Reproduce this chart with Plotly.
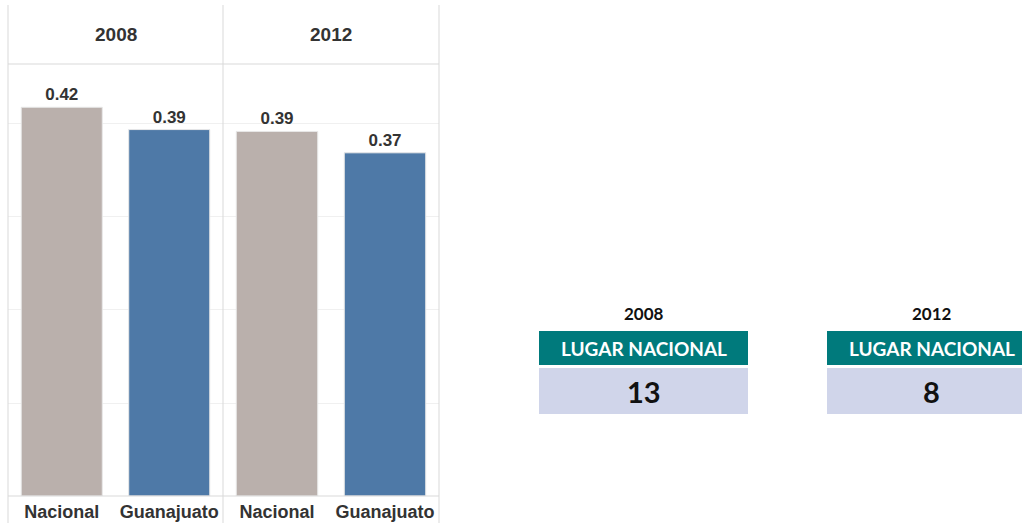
import plotly.graph_objects as go

years = ["2008", "2012"]
categories = ["Nacional", "Guanajuato"]
values_2008 = [0.418, 0.394]
values_2012 = [0.392, 0.369]
rank_labels = ["LUGAR NACIONAL", "LUGAR NACIONAL"]
ranks = ["13", "8"]
bar_colors = ["#BAB0AC", "#4E79A7"]

W, H = 1022, 523
def px(x):
    return x / W
def py(y):
    return 1 - y / H

fig = go.Figure()
for i, vals in enumerate([values_2008, values_2012]):
    fig.add_trace(go.Bar(
        x=categories, y=vals,
        marker=dict(color=bar_colors, line=dict(color="#e8e8e8", width=1)),
        text=vals, texttemplate="%{y:.2f}", textposition="outside",
        textfont=dict(family="Liberation Sans, Arial", size=17, color="#333333", weight="bold"),
        cliponaxis=False,
        xaxis="x" if i == 0 else "x2", yaxis="y" if i == 0 else "y2",
        showlegend=False, hoverinfo="x+y",
    ))

axis_common = dict(
    tickfont=dict(family="Liberation Sans, Arial", size=18, color="#333333", weight="bold"),
    showgrid=False, showline=False, zeroline=False, ticks="", fixedrange=True,
    ticklabelstandoff=3,
)
yaxis_common = dict(
    range=[0, 0.4645], domain=[py(496), py(64)], showticklabels=False,
    showgrid=True, gridcolor="#f0f0f0", gridwidth=1, zeroline=False,
    tickvals=[0.1, 0.2, 0.3, 0.4], showline=False, ticks="", fixedrange=True,
)

fig.update_layout(
    width=W, height=H, margin=dict(l=0, r=0, t=0, b=0),
    paper_bgcolor="white", plot_bgcolor="white",
    bargap=0.246,
    xaxis=dict(domain=[px(8), px(223)], anchor="y", **axis_common),
    xaxis2=dict(domain=[px(223), px(439)], anchor="y2", **axis_common),
    yaxis=dict(anchor="x", **yaxis_common),
    yaxis2=dict(anchor="x2", **yaxis_common),
)

line_c = "#d9d9d9"
shapes = []
for x in [8, 223, 439]:
    shapes.append(dict(type="line", xref="paper", yref="paper", x0=px(x), x1=px(x),
                       y0=py(5), y1=py(523), line=dict(color=line_c, width=1)))
shapes.append(dict(type="line", xref="paper", yref="paper", x0=px(8), x1=px(439),
                   y0=py(64), y1=py(64), line=dict(color=line_c, width=1)))
shapes.append(dict(type="line", xref="paper", yref="paper", x0=px(8), x1=px(439),
                   y0=py(496), y1=py(496), line=dict(color=line_c, width=1)))

annotations = []
for cx, yr in zip([115.5, 331], years):
    annotations.append(dict(x=px(cx), y=py(35), xref="paper", yref="paper", text="<b>%s</b>" % yr,
                            showarrow=False, font=dict(family="Liberation Sans, Arial", size=19, color="#333333"),
                            xanchor="center", yanchor="middle"))

# Right side rank boxes
for x0, yr, lab, rk in zip([539, 827], years, rank_labels, ranks):
    x1 = x0 + 209
    cx = (x0 + x1) / 2
    shapes.append(dict(type="rect", xref="paper", yref="paper", x0=px(x0), x1=px(x1),
                       y0=py(365), y1=py(331), fillcolor="#007A7C", line=dict(width=0), layer="below"))
    shapes.append(dict(type="rect", xref="paper", yref="paper", x0=px(x0), x1=px(x1),
                       y0=py(414), y1=py(368), fillcolor="#D0D5EA", line=dict(width=0), layer="below"))
    annotations.append(dict(x=px(cx), y=py(313), xref="paper", yref="paper", text="<b>%s</b>" % yr,
                            showarrow=False, font=dict(family="Lato, Open Sans", size=17, color="#111111"),
                            xanchor="center", yanchor="middle"))
    annotations.append(dict(x=px(cx), y=py(348), xref="paper", yref="paper", text="<b>%s</b>" % lab,
                            showarrow=False, font=dict(family="Lato, Open Sans", size=19, color="white"),
                            xanchor="center", yanchor="middle"))
    annotations.append(dict(x=px(cx), y=py(391), xref="paper", yref="paper", text="<b>%s</b>" % rk,
                            showarrow=False, font=dict(family="Lato, Open Sans", size=29, color="#111111"),
                            xanchor="center", yanchor="middle"))

fig.update_layout(shapes=shapes, annotations=annotations)
fig.write_html("out.html", config={"displayModeBar": False},
               post_script="document.body.style.margin='0';document.body.style.overflow='hidden';")
